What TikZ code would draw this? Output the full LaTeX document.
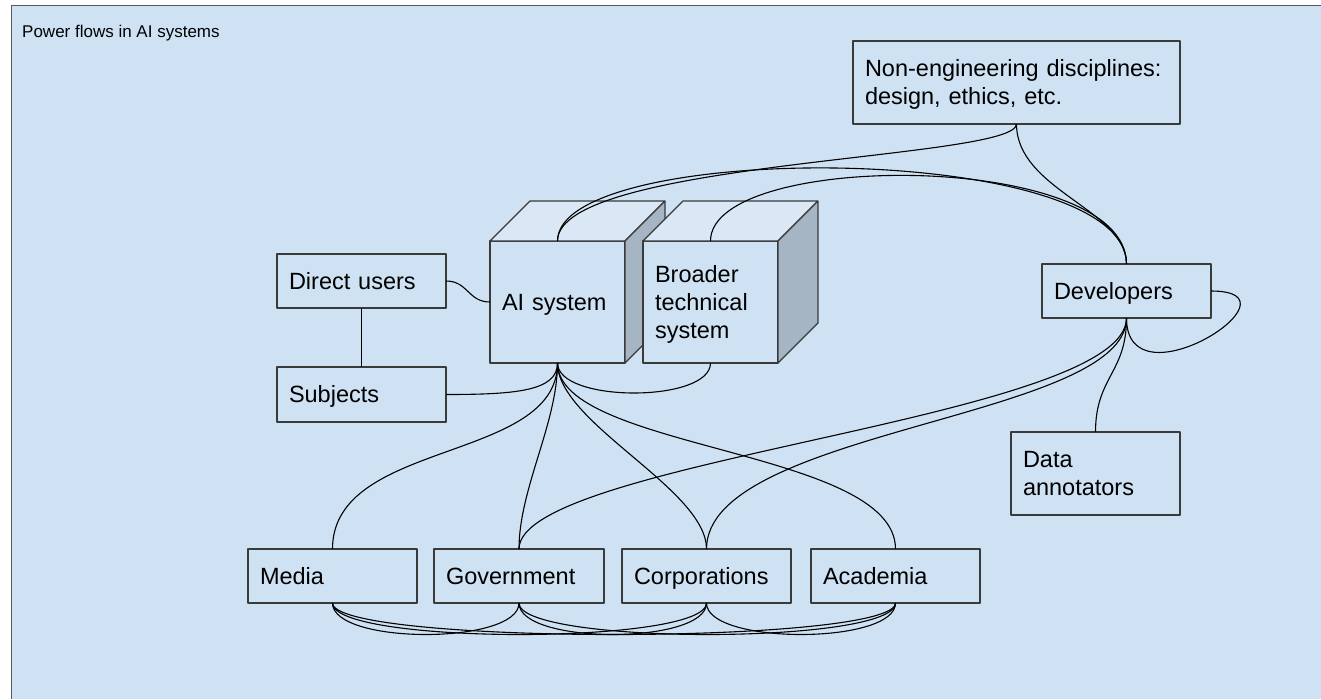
\documentclass[tikz,border=0pt]{standalone}
\usepackage{fontspec}
\setmainfont{Liberation Sans}
\definecolor{bgblue}{HTML}{CFE2F3}
\definecolor{cubetop}{HTML}{DAE8F5}
\definecolor{cubeside}{HTML}{A5B5C4}
\definecolor{boxline}{HTML}{3A3A3A}
\definecolor{frameline}{HTML}{595959}
\begin{document}
\begin{tikzpicture}[x=1pt,y=-1pt,line join=bevel,
  box/.style={draw=boxline,fill=bgblue,line width=1.2pt,anchor=north west,outer sep=0pt,
    inner xsep=12pt,inner ysep=0pt,align=left,text width=145pt,minimum height=54pt,
    text height=16pt,text depth=0pt,font=\fontsize{23.5}{28}\selectfont},
  face/.style={draw=boxline,line width=1.2pt},
  flow/.style={black,line width=1.1pt}]
%%
  \useasboundingbox (0,0) rectangle (1321,699);
  \fill [white] (0,0) rectangle (1321,699);
  \fill [bgblue] (11.5,5.5) rectangle (1321,699);
  \draw [frameline,line width=1.6pt] (11.5,699) -- (11.5,5.5) -- (1321,5.5);
  \node [anchor=base west,inner sep=0pt,font=\fontsize{17}{20}\selectfont] (node_title) at (22,37) {Power flows in AI systems};
%%
  \node [box] (node_users) at (277,254) {Direct users};
  \node [box,minimum height=55pt] (node_subjects) at (277,367) {Subjects};
  \node [box,text width=111pt,minimum height=122pt] (node_ai) at (490,241) {AI system};
  \fill [cubetop,face] (node_ai.north west) -- ++(40,-40) -- ++(135,0) -- (node_ai.north east) -- cycle;
  \fill [cubeside,face] (node_ai.north east) -- ++(40,-40) -- ++(0,122) -- (node_ai.south east) -- cycle;
  \node [box,text width=111pt,minimum height=122pt,text depth=56pt] (node_broader) at (643,241) {Broader\\technical\\system};
  \fill [cubetop,face] (node_broader.north west) -- ++(40,-40) -- ++(135,0) -- (node_broader.north east) -- cycle;
  \fill [cubeside,face] (node_broader.north east) -- ++(40,-40) -- ++(0,122) -- (node_broader.south east) -- cycle;
  \node [box,text width=303pt,minimum height=83pt,text depth=28pt] (node_nonengineering) at (853,41) {Non-engineering disciplines:\\design, ethics, etc.};
  \node [box] (node_developers) at (1042,264) {Developers};
  \node [box,minimum height=83pt,text depth=28pt] (node_annotators) at (1011,432) {Data\\annotators};
  \node [box] (node_media) at (248,549) {Media};
  \node [box,text width=146pt] (node_government) at (434,549) {Government};
  \node [box] (node_corporations) at (622,549) {Corporations};
  \node [box] (node_academia) at (811,549) {Academia};
%%
  \draw [flow] (node_users.east) .. controls +(22,0) and +(-22,0) .. (node_ai.west);
  \draw [flow] (node_users.south) -- (node_subjects.north);
  \draw [flow] (node_subjects.east) .. controls +(70,0) and +(0,28) .. (node_ai.south);
  \draw [flow] (node_ai.south) .. controls +(0,40) and +(0,40) .. (node_broader.south);
  \draw [flow] (node_ai.south) .. controls +(0,100) and +(0,-110) .. (node_media.north);
  \draw [flow] (node_ai.south) .. controls +(0,60) and +(0,-60) .. (node_government.north);
  \draw [flow] (node_ai.south) .. controls +(0,60) and +(0,-60) .. (node_corporations.north);
  \draw [flow] (node_ai.south) .. controls +(0,87) and +(0,-100) .. (node_academia.north);
  \draw [flow] (node_ai.north) .. controls +(0,-81) and +(0,36) .. (node_nonengineering.south);
  \draw [flow] (node_ai.north) .. controls +(0,-101) and +(0,-124) .. (node_developers.north);
  \draw [flow] (node_broader.north) .. controls +(0,-91) and +(0,-114) .. (node_developers.north);
  \draw [flow] (node_nonengineering.south) .. controls +(0,66) and +(0,-54) .. (node_developers.north);
  \draw [flow] (node_developers.south) .. controls +(0,55) and +(0,-55) .. (node_annotators.north);
  \draw [flow] (node_developers.south) .. controls +(0,101) and +(0,-89) .. (node_government.north);
  \draw [flow] (node_developers.south) .. controls +(0,101) and +(0,-120) .. (node_corporations.north);
  \draw [flow] (node_developers.east) .. controls +(99,0) and +(0,91) .. (node_developers.south);
  \foreach \a/\b in {media/government,media/corporations,media/academia,government/corporations,government/academia,corporations/academia}
    \draw [flow] (node_\a.south) .. controls +(0,42) and +(0,42) .. (node_\b.south);
\end{tikzpicture}
\end{document}
